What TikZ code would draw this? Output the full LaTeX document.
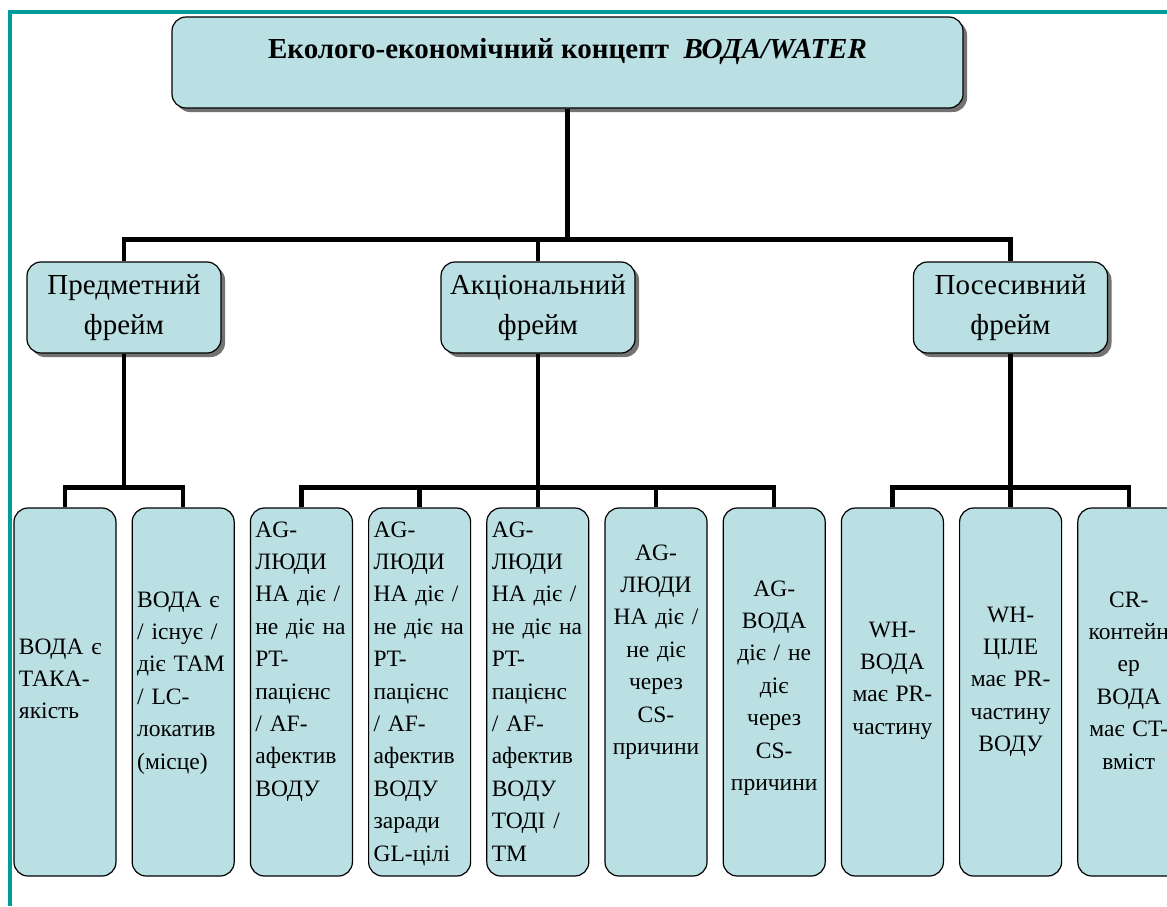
\documentclass[tikz,border=0pt]{standalone}
\usepackage{fontspec}
\setmainfont{Liberation Serif}
\usepackage{tikz}
\usetikzlibrary{shadows}

\definecolor{boxfill}{RGB}{186,224,228}
\definecolor{framecol}{RGB}{0,155,155}

\begin{document}
\begin{tikzpicture}
  [
    x=1pt, y=-1pt,
    box/.style   = {draw, line width=1.2pt, rounded corners=14pt, fill=boxfill},
    shade/.style = {drop shadow={shadow xshift=4pt, shadow yshift=-4pt, fill=black!55, opacity=1}},
    frame/.style = {box, shade, minimum width=194pt, minimum height=91pt, align=center,
                    font=\fontsize{29}{40}\selectfont},
    leaf/.style  = {box, minimum width=102pt, text width=92pt, inner xsep=5pt, inner ysep=0pt,
                    font=\fontsize{23.5}{32.4}\selectfont},
    conn/.style  = {line width=4.5pt},
  ]

%Page size
\useasboundingbox (0,0) rectangle (1167,906);

%Teal border on the left and top
\draw[framecol, line width=4pt] (10,906) -- (10,11.5) -- (1167,11.5);

%Top of the leaf row, its height and the step between leaves
\def \leaftop{508}
\def \leafh{368}
\def \gap{118.2}
\def \xfirst{65}

%Concept box
\node[box, shade, minimum width=791pt, inner ysep=0pt, text height=41pt, text depth=50pt,
      font=\fontsize{29}{32}\selectfont] (top) at (567.5,62.5)
      {\textbf{Еколого-економічний концепт \ \textit{ВОДА/WATER}}};

%Frames
\node[frame] (fr1) at (124,307.5)  {Предметний\\фрейм};
\node[frame] (fr2) at (538,307.5)  {Акціональний\\фрейм};
\node[frame] (fr3) at (1010.5,307.5) {Посесивний\\фрейм};

\foreach \i in {1,2,3}
{
\draw[conn] (top.south) -- ++(0,131) -| (fr\i.north);
}

%Leaves, left aligned text
\foreach [count=\i] \t/\txt in {146/{ВОДА є\\ТАКА-\\якість},
  99/{ВОДА є\\/ існує /\\діє ТАМ\\/ LC-\\локатив\\(місце)},
  29/{AG-\\ЛЮДИ\\НА діє /\\не діє на\\PT-\\пацієнс\\/ AF-\\афектив\\ВОДУ},
  29/{AG-\\ЛЮДИ\\НА діє /\\не діє на\\PT-\\пацієнс\\/ AF-\\афектив\\ВОДУ\\заради\\GL-цілі},
  29/{AG-\\ЛЮДИ\\НА діє /\\не діє на\\PT-\\пацієнс\\/ AF-\\афектив\\ВОДУ\\ТОДІ /\\TM}}
{
\pgfmathsetmacro{\xc}{\xfirst+(\i-1)*\gap}
\pgfmathtruncatemacro{\d}{\leafh-\t}
\node[leaf, align=left, text height=\t pt, text depth=\d pt] (l\i) at (\xc,\leaftop+\leafh/2) {\txt};
}

%Leaves, centred text
\foreach [count=\j] \t/\txt in {52/{AG-\\ЛЮДИ\\НА діє /\\не діє\\через\\CS-\\причини},
  88/{AG-\\ВОДА\\діє / не\\діє\\через\\CS-\\причини},
  129/{WH-\\ВОДА\\має PR-\\частину},
  114/{WH-\\ЦІЛЕ\\має PR-\\частину\\ВОДУ},
  99/{CR-\\контейн\\ер\\ВОДА\\має CT-\\вміст}}
{
\pgfmathtruncatemacro{\i}{\j+5}
\pgfmathsetmacro{\xc}{\xfirst+(\i-1)*\gap}
\pgfmathtruncatemacro{\d}{\leafh-\t}
\node[leaf, align=center, text height=\t pt, text depth=\d pt] (l\i) at (\xc,\leaftop+\leafh/2) {\txt};
}

%Connectors from frames to leaves
\foreach \i in {1,2}
  \draw[conn] (fr1.south) -- ++(0,134) -| (l\i.north);
\foreach \i in {3,...,7}
  \draw[conn] (fr2.south) -- ++(0,134) -| (l\i.north);
\foreach \i in {8,9,10}
  \draw[conn] (fr3.south) -- ++(0,134) -| (l\i.north);

\end{tikzpicture}
\end{document}
